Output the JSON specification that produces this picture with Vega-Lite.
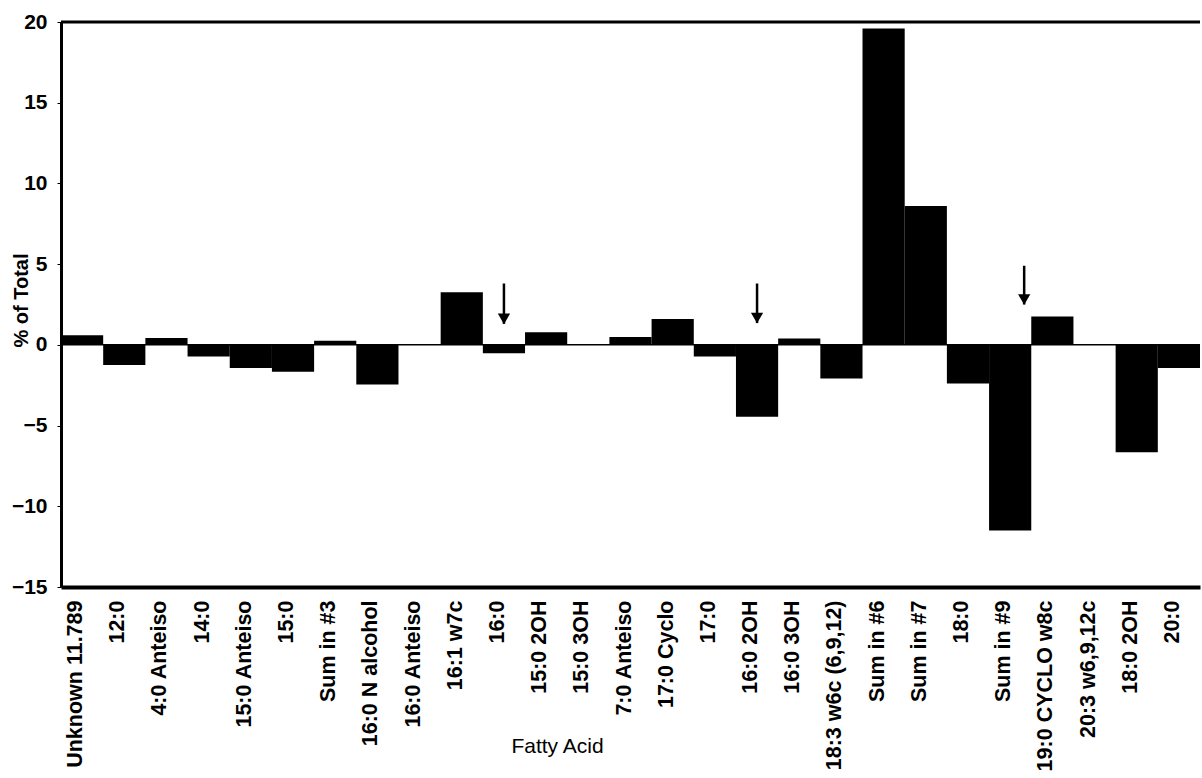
{
  "$schema": "https://vega.github.io/schema/vega-lite/v6.json",
  "width": 1139,
  "height": 565,
  "autosize": "none",
  "padding": {"left": 61, "top": 22, "right": 2, "bottom": 191},
  "background": "white",
  "config": {
    "view": {"stroke": null},
    "font": "Liberation Sans"
  },
  "datasets": {
    "acids": [
      {"acid": "Unknown 11.789", "pct": 0.6},
      {"acid": "12:0", "pct": -1.25},
      {"acid": "4:0 Anteiso", "pct": 0.43},
      {"acid": "14:0", "pct": -0.72},
      {"acid": "15:0 Anteiso", "pct": -1.43},
      {"acid": "15:0", "pct": -1.66},
      {"acid": "Sum in #3", "pct": 0.26},
      {"acid": "16:0 N alcohol", "pct": -2.45},
      {"acid": "16:0 Anteiso", "pct": 0},
      {"acid": "16:1 w7c", "pct": 3.26},
      {"acid": "16:0", "pct": -0.52},
      {"acid": "15:0 2OH", "pct": 0.78},
      {"acid": "15:0 3OH", "pct": 0},
      {"acid": "7:0 Anteiso", "pct": 0.48},
      {"acid": "17:0 Cyclo", "pct": 1.6},
      {"acid": "17:0", "pct": -0.72},
      {"acid": "16:0 2OH", "pct": -4.46},
      {"acid": "16:0 3OH", "pct": 0.4},
      {"acid": "18:3 w6c (6,9,12)", "pct": -2.08},
      {"acid": "Sum in #6", "pct": 19.6},
      {"acid": "Sum in #7", "pct": 8.6},
      {"acid": "18:0", "pct": -2.4},
      {"acid": "Sum in #9", "pct": -11.5},
      {"acid": "19:0 CYCLO w8c", "pct": 1.75},
      {"acid": "20:3 w6,9,12c", "pct": 0},
      {"acid": "18:0 2OH", "pct": -6.65},
      {"acid": "20:0", "pct": -1.43}
    ],
    "arrows": [
      {"acid": "16:0", "top": 3.8, "tip": 1.3},
      {"acid": "16:0 2OH", "top": 3.8, "tip": 1.35}
    ],
    "arrows2": [
      {"acid": "Sum in #9", "top": 4.9, "tip": 2.5}
    ]
  },
  "encoding": {
    "x": {
      "field": "acid",
      "type": "nominal",
      "sort": null,
      "scale": {"paddingInner": 0, "paddingOuter": 0},
      "axis": {
        "title": "Fatty Acid",
        "titleFont": "Liberation Sans",
        "titleFontSize": 21,
        "titleFontWeight": "normal",
        "titleX": 496,
        "titleY": 148,
        "titleBaseline": "top",
        "titleAnchor": null,
        "titleAlign": "center",
        "labelAngle": -90,
        "labelFontSize": 21.5,
        "labelFontWeight": "bold",
        "labelColor": "black",
        "labelPadding": 13,
        "labelOffset": -6,
        "labelLimit": 300,
        "ticks": false,
        "domainColor": "black",
        "domainWidth": 4
      }
    }
  },
  "layer": [
    {
      "data": {"name": "acids"},
      "mark": {"type": "bar", "color": "black"},
      "encoding": {
        "y": {
          "field": "pct",
          "type": "quantitative",
          "scale": {"domain": [-15, 20], "nice": false},
          "axis": {
            "title": "% of Total",
            "titleFontSize": 20,
            "titleFontWeight": "bold",
            "titleColor": "black",
            "titleAngle": -90,
            "titleX": -40,
            "titleY": 278,
            "titleAlign": "center",
            "titleBaseline": "middle",
            "titleAnchor": null,
            "values": [-15, -10, -5, 0, 5, 10, 15, 20],
            "grid": false,
            "labelFontSize": 21,
            "labelFontWeight": "bold",
            "labelColor": "black",
            "labelPadding": 10,
            "tickSize": 4,
            "tickColor": "black",
            "domainColor": "black",
            "domainWidth": 3
          }
        }
      }
    },
    {
      "data": {"values": [{"v": 0}]},
      "mark": {"type": "rule", "color": "black", "strokeWidth": 1.5},
      "encoding": {"x": null, "y": {"field": "v", "type": "quantitative"}}
    },
    {
      "data": {"values": [{"v": 20}]},
      "mark": {"type": "rule", "color": "black", "strokeWidth": 3},
      "encoding": {"x": null, "y": {"field": "v", "type": "quantitative"}}
    },
    {
      "data": {"name": "arrows"},
      "mark": {"type": "rule", "color": "black", "strokeWidth": 2.5},
      "encoding": {
        "y": {"field": "top", "type": "quantitative"},
        "y2": {"field": "tip"}
      }
    },
    {
      "data": {"name": "arrows"},
      "mark": {"type": "point", "shape": "triangle-down", "filled": true, "color": "black", "opacity": 1, "size": 150, "yOffset": -5},
      "encoding": {
        "y": {"field": "tip", "type": "quantitative"}
      }
    },
    {
      "data": {"name": "arrows2"},
      "mark": {"type": "rule", "color": "black", "strokeWidth": 2.5, "xOffset": 14},
      "encoding": {
        "y": {"field": "top", "type": "quantitative"},
        "y2": {"field": "tip"}
      }
    },
    {
      "data": {"name": "arrows2"},
      "mark": {"type": "point", "shape": "triangle-down", "filled": true, "color": "black", "opacity": 1, "size": 150, "yOffset": -5, "xOffset": 14},
      "encoding": {
        "y": {"field": "tip", "type": "quantitative"}
      }
    }
  ]
}
